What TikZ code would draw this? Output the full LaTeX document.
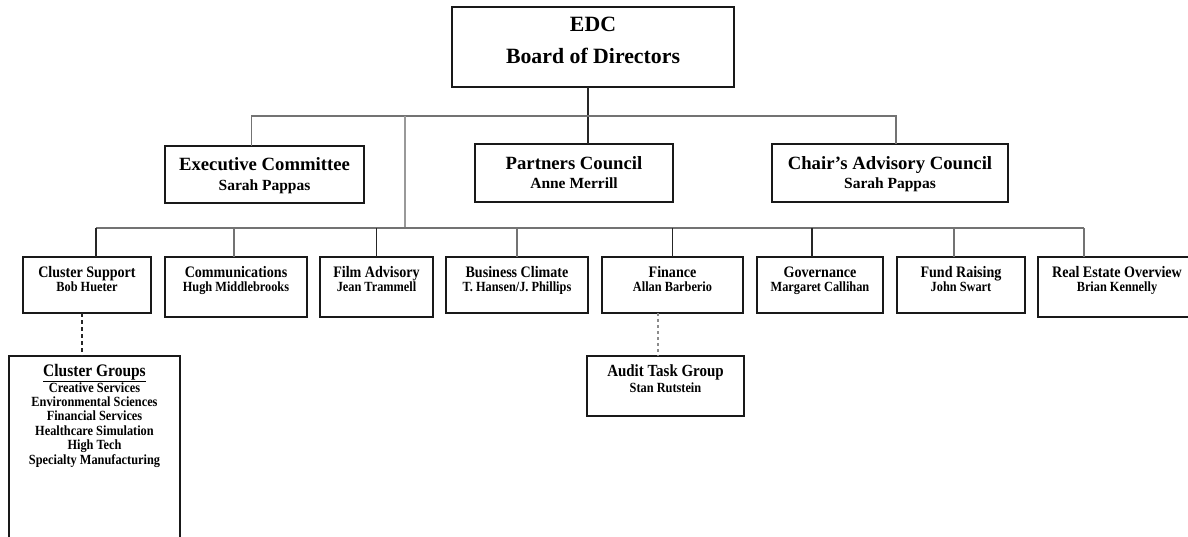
\documentclass[tikz,border=0pt]{standalone}
\usepackage{fontspec}
\setmainfont{Liberation Serif}
\newfontfamily\condserif[FakeStretch=0.88]{Liberation Serif}
\begin{document}
\begin{tikzpicture}[x=1pt,y=-1pt,
  box/.style={draw=black!90, line width=1.4pt, fill=white, inner sep=0pt, outer sep=0pt, anchor=north west},
  conn/.style={draw=black!55, line width=1.3pt},
  dconn/.style={draw=black!85, line width=1.3pt},
  dsh/.style={draw=black!85, line width=1.2pt, dash pattern=on 4pt off 3pt},
  lsh/.style={draw=black!45, line width=1.2pt, dash pattern=on 3pt off 3pt},
  tedc/.style={anchor=base, inner sep=0pt, font=\bfseries\fontsize{21.8}{24}\selectfont},
  tup/.style={anchor=base, inner sep=0pt, font=\bfseries\fontsize{18.7}{20}\selectfont},
  nup/.style={anchor=base, inner sep=0pt, font=\bfseries\fontsize{15.5}{17}\selectfont},
  tlo/.style={anchor=base, inner sep=0pt, font=\condserif\bfseries\fontsize{16}{18}\selectfont},
  nlo/.style={anchor=base, inner sep=0pt, font=\condserif\bfseries\fontsize{14}{16}\selectfont},
]
\clip (0,0) rectangle (1188,537);
\fill[white] (0,0) rectangle (1188,537);

% coordinates of the buses
\coordinate (top) at (0,116);
\coordinate (bus) at (0,228);
\coordinate (split) at (405,116);

% top box
\node[box, minimum width=282pt, minimum height=80pt] (edc) at (452,7) {};
\node[tedc] (edc1) at ([yshift=-25pt]edc.north) {EDC};
\node[tedc] (edc2) at ([yshift=-57pt]edc.north) {Board of Directors};

% second level
\node[box, minimum width=199pt, minimum height=57pt] (exec) at (165,146) {};
\node[tup] (exec1) at ([yshift=-25pt]exec.north) {Executive Committee};
\node[nup] (exec2) at ([yshift=-45pt]exec.north) {Sarah Pappas};

\node[box, minimum width=198pt, minimum height=58pt] (part) at (475,144) {};
\node[tup] (part1) at ([yshift=-26pt]part.north) {Partners Council};
\node[nup] (part2) at ([yshift=-45pt]part.north) {Anne Merrill};

\node[box, minimum width=236pt, minimum height=58pt] (chair) at (772,144) {};
\node[tup] (chair1) at ([yshift=-26pt]chair.north) {Chair’s Advisory Council};
\node[nup] (chair2) at ([yshift=-45pt]chair.north) {Sarah Pappas};

% third level
\node[box, minimum width=128pt, minimum height=56pt] (cs) at (23,257) {};
\node[tlo] (cs1) at ([yshift=-20pt]cs.north) {Cluster Support};
\node[nlo] (cs2) at ([yshift=-34pt]cs.north) {Bob Hueter};

\node[box, minimum width=142pt, minimum height=60pt] (comm) at (165,257) {};
\node[tlo] (comm1) at ([yshift=-20pt]comm.north) {Communications};
\node[nlo] (comm2) at ([yshift=-34pt]comm.north) {Hugh Middlebrooks};

\node[box, minimum width=113pt, minimum height=60pt] (film) at (320,257) {};
\node[tlo] (film1) at ([yshift=-20pt]film.north) {Film Advisory};
\node[nlo] (film2) at ([yshift=-34pt]film.north) {Jean Trammell};

\node[box, minimum width=142pt, minimum height=56pt] (bc) at (446,257) {};
\node[tlo] (bc1) at ([yshift=-20pt]bc.north) {Business Climate};
\node[nlo] (bc2) at ([yshift=-34pt]bc.north) {T. Hansen/J. Phillips};

\node[box, minimum width=141pt, minimum height=56pt] (fin) at (602,257) {};
\node[tlo] (fin1) at ([yshift=-20pt]fin.north) {Finance};
\node[nlo] (fin2) at ([yshift=-34pt]fin.north) {Allan Barberio};

\node[box, minimum width=126pt, minimum height=56pt] (gov) at (757,257) {};
\node[tlo] (gov1) at ([yshift=-20pt]gov.north) {Governance};
\node[nlo] (gov2) at ([yshift=-34pt]gov.north) {Margaret Callihan};

\node[box, minimum width=128pt, minimum height=56pt] (fund) at (897,257) {};
\node[tlo] (fund1) at ([yshift=-20pt]fund.north) {Fund Raising};
\node[nlo] (fund2) at ([yshift=-34pt]fund.north) {John Swart};

\node[box, minimum width=158pt, minimum height=60pt] (re) at (1038,257) {};
\node[tlo] (re1) at ([yshift=-20pt]re.north) {Real Estate Overview};
\node[nlo] (re2) at ([yshift=-34pt]re.north) {Brian Kennelly};

% fourth level
\node[box, minimum width=171pt, minimum height=200pt] (cg) at (9,356) {};
\node[anchor=base, inner sep=0pt, font=\condserif\bfseries\fontsize{17.6}{19}\selectfont] (cg0) at ([yshift=-20pt]cg.north) {\underline{Cluster Groups}};
\foreach \t [count=\i from 0] in {Creative Services,Environmental Sciences,Financial Services,Healthcare Simulation,High Tech,Specialty Manufacturing}{
  \node[nlo] (cgi\i) at ([yshift=-36pt-\i*14.4pt]cg.north) {\t};
}

\node[box, minimum width=157pt, minimum height=60pt] (aud) at (587,356) {};
\node[anchor=base, inner sep=0pt, font=\condserif\bfseries\fontsize{17}{19}\selectfont] (aud1) at ([yshift=-20pt]aud.north) {Audit Task Group};
\node[nlo] (aud2) at ([yshift=-36pt]aud.north) {Stan Rutstein};

% connectors
\draw[dconn] ([xshift=-5pt]edc.south) -- ([xshift=-5pt]edc.south |- part.north);
\draw[conn] ([xshift=-13pt]exec.north) |- ([xshift=6pt]chair.north |- top) -- ([xshift=6pt]chair.north);
\draw[conn, draw=black!40] (split) -- (split |- bus);
\draw[conn] ([xshift=9pt]cs.north |- bus) -- ([xshift=-33pt]re.north |- bus);
\draw[dconn] ([xshift=9pt]cs.north) -- ([xshift=9pt]cs.north |- bus);
\draw[conn] ([xshift=-2pt]comm.north) -- ([xshift=-2pt]comm.north |- bus);
\draw[dconn] (film.north) -- (film.north |- bus);
\draw[conn] (bc.north) -- (bc.north |- bus);
\draw[dconn] (fin.north) -- (fin.north |- bus);
\draw[dconn] ([xshift=-8pt]gov.north) -- ([xshift=-8pt]gov.north |- bus);
\draw[conn] ([xshift=-7pt]fund.north) -- ([xshift=-7pt]fund.north |- bus);
\draw[conn] ([xshift=-33pt]re.north) -- ([xshift=-33pt]re.north |- bus);
\draw[dsh] ([xshift=-5pt]cs.south) -- ([xshift=-5pt]cs.south |- cg.north);
\draw[lsh] ([xshift=-14.5pt]fin.south) -- ([xshift=-14.5pt]fin.south |- aud.north);
\end{tikzpicture}
\end{document}
